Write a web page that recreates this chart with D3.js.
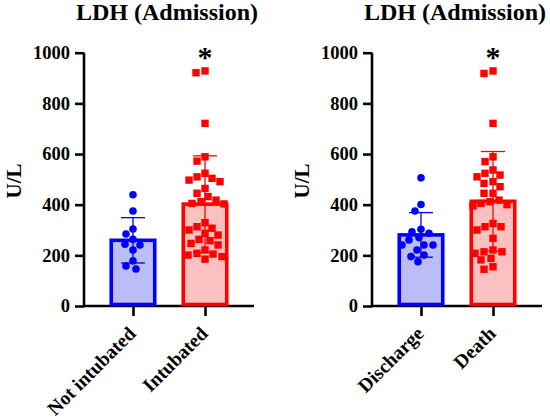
<!DOCTYPE html>
<html>
<head>
<meta charset="utf-8">
<script src="https://cdn.jsdelivr.net/npm/d3@7"></script>
<style>
  body { margin: 0; background: #fff; }
  svg text { font-family: "Liberation Serif", "Times New Roman", serif; font-weight: bold; fill: #000; }
</style>
</head>
<body>
<svg id="chart" width="550" height="418"></svg>
<script>
// values (U/L)
const notIntubated = [ 439, 375, 304, 284, 263, 241, 221, 244, 178, 158, 146 ];
const intubated = [ 921, 928, 721, 589, 572, 510, 497, 491, 504, 524, 464, 445, 432, 405, 418, 412, 403,
  329, 313, 300, 307, 263, 247, 258, 241, 208, 201, 195, 221, 185, 205, 287, 280 ];
const discharge = [ 506, 401, 375, 293, 287, 303, 241, 221, 241, 261, 241, 201, 195, 175, 270 ];
const death = [ 918, 928, 721, 589, 570, 517, 537, 524, 510, 491, 471, 484, 445, 445, 418, 412, 405,
  400, 395, 326, 313, 313, 300, 267, 214, 208, 221, 214, 182, 155, 145, 188 ];

const titles = [ "LDH (Admission)", "LDH (Admission)" ];
const categoriesA = [ "Not intubated", "Intubated" ];
const categoriesB = [ "Discharge", "Death" ];
const yTicks = [ 0, 200, 400, 600, 800, 1000 ];
const yLabel = "U/L";
const significance = [ "", "*" ];

const panels = [
  { title: titles[0], cats: categoriesA, groups: [ notIntubated, intubated ], left: 84 },
  { title: titles[1], cats: categoriesB, groups: [ discharge, death ], left: 372 },
];

const BLUE = "#0000ff";
const RED = "#ff0000";
const styles = [
  { stroke: BLUE, fill: "#bcbcf6", shape: "circle" },
  { stroke: RED, fill: "#fbc0c0", shape: "square" },
];

const svg = d3.select( "#chart" );
const AXIS_W = 170;
const y = d3.scaleLinear().domain( [ 0, 1000 ] ).range( [ 306, 52.7 ] );

// simple beeswarm so markers don't sit on top of each other
const swarm = ( values, cx, minDist, maxOff ) => {
  const placed = [];
  const pts = values.map( v => ( { v, py: y( v ) } ) ).sort( ( a, b ) => b.v - a.v );
  pts.forEach( p => {
    let best = 0;
    let bestScore = Infinity;
    for ( let k = 0; k <= maxOff * 2; k++ ) {
      const off = k % 2 === 0 ? k / 2 : -( k + 1 ) / 2;
      let overlap = 0;
      placed.forEach( q => {
        const d = Math.hypot( off - q.off, p.py - q.py );
        if ( d < minDist ) overlap += minDist - d;
      } );
      if ( overlap === 0 ) { best = off; bestScore = 0; break; }
      if ( overlap < bestScore ) { bestScore = overlap; best = off; }
    }
    p.off = best;
    p.px = cx + best;
    placed.push( p );
  } );
  return pts;
};

panels.forEach( panel => {
  const g = svg.append( "g" ).attr( "transform", `translate(${panel.left},0)` );

  const x = d3.scalePoint().domain( panel.cats ).range( [ 0, AXIS_W ] ).padding( 0.68 );

  g.append( "text" )
    .attr( "x", AXIS_W / 2 - 2 )
    .attr( "y", 20 )
    .attr( "text-anchor", "middle" )
    .style( "font-size", "24px" )
    .text( panel.title );

  const yAxis = d3.axisLeft( y ).tickValues( yTicks ).tickSize( 9 ).tickPadding( 5 ).tickFormat( d3.format( "d" ) );
  const ya = g.append( "g" ).call( yAxis );
  ya.select( ".domain" ).attr( "d", `M0,${y( 0 )}V${y( 1000 )}` );

  const xAxis = d3.axisBottom( x ).tickSize( 10 ).tickFormat( "" );
  const xa = g.append( "g" ).attr( "transform", `translate(0,${y( 0 )})` ).call( xAxis );
  xa.select( ".domain" ).attr( "d", `M0,0H${AXIS_W}` );

  [ ya, xa ].forEach( a => {
    a.selectAll( "path, line" ).attr( "stroke", "#000" ).attr( "stroke-width", 2.6 );
    a.selectAll( "text" ).style( "font-size", "18.5px" );
  } );

  g.append( "text" )
    .attr( "transform", "translate(-70,181) rotate(-90)" )
    .attr( "text-anchor", "middle" )
    .attr( "dy", "0.35em" )
    .style( "font-size", "21px" )
    .text( yLabel );

  g.selectAll( ".xlab" )
    .data( panel.cats )
    .enter()
    .append( "text" )
    .attr( "class", "xlab" )
    .attr( "transform", d => `translate(${x( d ) - 1},330) rotate(-45)` )
    .attr( "text-anchor", "end" )
    .attr( "dy", "0.35em" )
    .style( "font-size", "19.5px" )
    .text( d => d );

  const BAR_W = 43.5;
  panel.groups.forEach( ( vals, i ) => {
    const st = styles[i];
    const cx = x( panel.cats[i] );
    const mean = d3.mean( vals );
    const sd = d3.deviation( vals );

    g.append( "rect" )
      .attr( "x", cx - BAR_W / 2 )
      .attr( "y", y( mean ) )
      .attr( "width", BAR_W )
      .attr( "height", y( 0 ) - y( mean ) - 1.5 )
      .attr( "fill", st.fill )
      .attr( "stroke", st.stroke )
      .attr( "stroke-width", 3.6 );

    const pts = swarm( vals, cx, 8.5, 20 );
    if ( st.shape === "circle" ) {
      g.selectAll( null ).data( pts ).enter().append( "circle" )
        .attr( "cx", d => d.px )
        .attr( "cy", d => d.py )
        .attr( "r", 3.8 )
        .attr( "fill", st.stroke );
    } else {
      const s = 7.4;
      g.selectAll( null ).data( pts ).enter().append( "rect" )
        .attr( "x", d => d.px - s / 2 )
        .attr( "y", d => d.py - s / 2 )
        .attr( "width", s )
        .attr( "height", s )
        .attr( "fill", st.stroke );
    }

    // mean ± SD
    const eb = g.append( "g" ).attr( "stroke", st.stroke ).attr( "stroke-width", 1.3 );
    eb.append( "line" ).attr( "x1", cx ).attr( "x2", cx ).attr( "y1", y( mean - sd ) ).attr( "y2", y( mean + sd ) );
    [ mean - sd, mean + sd ].forEach( v => {
      eb.append( "line" ).attr( "x1", cx - 12 ).attr( "x2", cx + 12 ).attr( "y1", y( v ) ).attr( "y2", y( v ) );
    } );

    if ( significance[i] ) {
      g.append( "text" )
        .attr( "x", cx )
        .attr( "y", 67 )
        .attr( "text-anchor", "middle" )
        .style( "font-size", "30px" )
        .text( significance[i] );
    }
  } );
} );
</script>
</body>
</html>
